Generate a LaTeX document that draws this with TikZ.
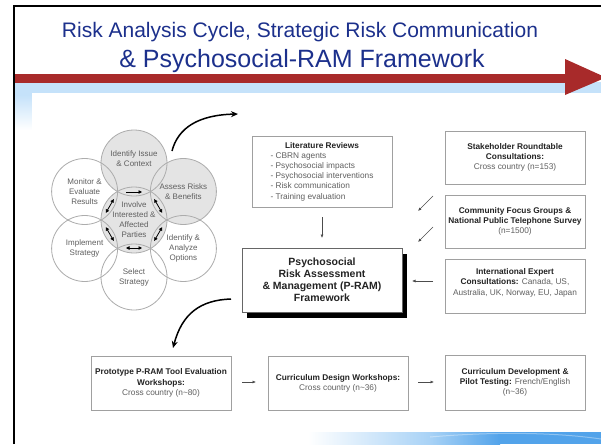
\documentclass[tikz,border=0pt]{standalone}
\usepackage{fontspec}
\setmainfont{Liberation Sans}
\usetikzlibrary{arrows.meta,shadows}

\definecolor{titleblue}{RGB}{28,48,140}
\definecolor{arrowred}{RGB}{168,42,42}
\definecolor{bandblue}{RGB}{197,226,250}
\definecolor{petalfill}{RGB}{228,228,228}
\definecolor{petalline}{RGB}{172,172,172}
\definecolor{boxline}{RGB}{160,160,160}
\definecolor{txtdark}{RGB}{35,35,35}
\definecolor{txtgray}{RGB}{95,95,95}
\definecolor{swlight}{RGB}{168,210,246}
\definecolor{swblue}{RGB}{82,163,234}

\newcommand\bhead[1]{\textcolor{txtdark}{\bfseries #1}}

\begin{document}
\begin{tikzpicture}[x=1pt,y=-1pt,
  petal/.style={circle, draw=petalline, line width=0.8pt, minimum size=66pt,
    inner sep=0pt, align=center, text=txtgray, font=\fontsize{8}{10}\selectfont},
  box/.style={rectangle, draw=boxline, line width=0.9pt, fill=white,
    minimum width=140pt, minimum height=53pt, inner sep=1pt, align=center,
    text=txtgray, font=\fontsize{8.3}{10.2}\selectfont,
    drop shadow={shadow xshift=1pt, shadow yshift=-1pt, fill=black, opacity=0.15}},
  bigarrow/.style={line width=1.5pt, -{Stealth[length=7pt,width=6pt]}},
  smallarrow/.style={line width=0.6pt, draw=black!70, -{Latex[length=3.5pt,width=3pt]}},
  cyc/.style={line width=0.8pt, -{Triangle[length=3.5pt,width=3.5pt]}},
  cycboth/.style={line width=0.8pt, {Triangle[length=3.5pt,width=3.5pt]}-{Triangle[length=3.5pt,width=3.5pt]}},
]

\useasboundingbox (0,0) rectangle (601,444);
\clip (0,0) rectangle (601,444);
\fill[white] (0,0) rectangle (601,444);

% light blue band under the title bar, fading down the left margin
\fill[bandblue] (15,82) rectangle (601,95);
\shade[top color=bandblue, bottom color=white] (15,95) rectangle (32,130);
\fill[white] (32,93) rectangle (601,444);

% blue swoosh at the bottom edge
\shade[left color=white, right color=swlight] (308,432) rectangle (430,444);
\shade[left color=swlight, right color=swblue] (430,432) rectangle (500,444);
\fill[swblue] (500,432) rectangle (601,444);
\draw[white, opacity=0.35, line width=1pt] (430,437) .. controls (500,431) and (560,433) .. (601,439);

% slide frame
\draw[black, line width=2.3pt] (14.3,444) -- (14.3,5.8) -- (601,5.8);

% red title arrow
\fill[arrowred] (15,74) rectangle (566,82.5);
\fill[arrowred] (565,59) -- (606,77.5) -- (565,95) -- cycle;

% title
\node[anchor=base, text=titleblue, font=\fontsize{21}{24}\selectfont] (title1) at (300,37.5)
  {Risk Analysis Cycle, Strategic Risk Communication};
\node[anchor=base, text=titleblue, font=\fontsize{25}{28}\selectfont] (title2) at (302,67)
  {\& Psychosocial-RAM Framework};

% risk analysis cycle: shaded petals first, outlines on top
\fill[petalfill] (134,163) circle (33pt);
\fill[petalfill] (183.4,191.5) circle (33pt);
\fill[petalfill] (134,220) circle (33pt);

\node[petal] (issue)   at (134,163)   {Identify Issue\\\& Context\\[-1pt]};
\node[petal] (assess)  at (183.4,191.5) {Assess Risks\\\& Benefits};
\node[petal] (options) at (183.4,248.5) {Identify \&\\Analyze\\Options};
\node[petal] (select)  at (134,277)   {Select\\Strategy};
\node[petal] (implem)  at (84.6,248.5) {Implement\\Strategy};
\node[petal] (monitor) at (84.6,191.5) {Monitor \&\\Evaluate\\Results};
\node[petal] (involve) at (134,220)   {Involve\\Interested \&\\Affected\\Parties};

% exchange arrows around the centre petal
\draw[cyc]     ([shift={(-8,-28)}]involve.center) -- ([shift={(8,-28)}]involve.center);
\draw[cycboth] ([shift={(20.2,-20.9)}]involve.center) -- ([shift={(28.2,-7.1)}]involve.center);
\draw[cycboth] ([shift={(28.2,7.1)}]involve.center) -- ([shift={(20.2,20.9)}]involve.center);
\draw[cycboth] ([shift={(8,28)}]involve.center) -- ([shift={(-8,28)}]involve.center);
\draw[cycboth] ([shift={(-20.2,20.9)}]involve.center) -- ([shift={(-28.2,7.1)}]involve.center);
\draw[cycboth] ([shift={(-28.2,-7.1)}]involve.center) -- ([shift={(-20.2,-20.9)}]involve.center);

% boxes
\node[box, minimum height=71pt] (lit) at (322,171.5) {%
  \begin{tabular}{@{}l@{}}
  \multicolumn{1}{@{}c@{}}{\bhead{Literature Reviews}}\\
  - CBRN agents\\
  - Psychosocial impacts\\
  - Psychosocial interventions\\
  - Risk communication\\
  - Training evaluation
  \end{tabular}};

\node[box] (stake) at (515,157.5)
  {\bhead{Stakeholder Roundtable}\\\bhead{Consultations:}\\Cross country (n=153)};
\node[box] (comm) at (515,221.5)
  {\bhead{Community Focus Groups \&}\\\bhead{National Public Telephone Survey}\\(n=1500)};
\node[box, minimum height=54pt] (intl) at (515,286)
  {\bhead{International Expert}\\\bhead{Consultations:} Canada, US,\\Australia, UK, Norway, EU, Japan\\[-2pt]};

\node[box, draw=black!60, minimum width=160pt, minimum height=64pt,
      text=txtdark, font=\bfseries\fontsize{10.5}{12}\selectfont,
      drop shadow={shadow xshift=5pt, shadow yshift=-6pt, fill=black, opacity=1}] (pram) at (322,280)
  {Psychosocial\\Risk Assessment\\\& Management (P-RAM)\\Framework};

\node[box, minimum height=54pt] (proto) at (161,383)
  {\bhead{Prototype P-RAM Tool Evaluation}\\\bhead{Workshops:}\\Cross country (n\textasciitilde80)};
\node[box, minimum height=54pt] (design) at (338,383)
  {\bhead{Curriculum Design Workshops:}\\Cross country (n\textasciitilde36)};
\node[box, minimum height=55pt] (devel) at (515,382.5)
  {\bhead{Curriculum Development \&}\\\bhead{Pilot Testing:} French/English\\(n\textasciitilde36)};

% connector ends
\coordinate (cycout)  at (172,151);
\coordinate (litin)   at (238,114);
\coordinate (pramout) at (231,299);
\coordinate (protoin) at (173,348);
\coordinate (litdown) at (322,217);
\coordinate (pramtop) at (322,238);
\coordinate (stakeA)  at (433,196);
\coordinate (pramA)   at (418,211);
\coordinate (commA)   at (433,227);
\coordinate (pramB)   at (418,242);
\coordinate (intlA)   at (433,281);
\coordinate (pramC)   at (412,281);
\coordinate (protoA)  at (242,382);
\coordinate (designA) at (256,382);
\coordinate (designB) at (418,382);
\coordinate (develA)  at (434,382);

% connectors
\draw[bigarrow] (cycout) .. controls (178,128) and (198,115) .. (litin);
\draw[bigarrow] (pramout) .. controls (200,300) and (182,314) .. (protoin);
\draw[smallarrow] (litdown) -- (pramtop);
\draw[smallarrow] (stakeA) -- (pramA);
\draw[smallarrow] (commA) -- (pramB);
\draw[smallarrow] (intlA) -- (pramC);
\draw[smallarrow] (protoA) -- (designA);
\draw[smallarrow] (designB) -- (develA);

\end{tikzpicture}
\end{document}
